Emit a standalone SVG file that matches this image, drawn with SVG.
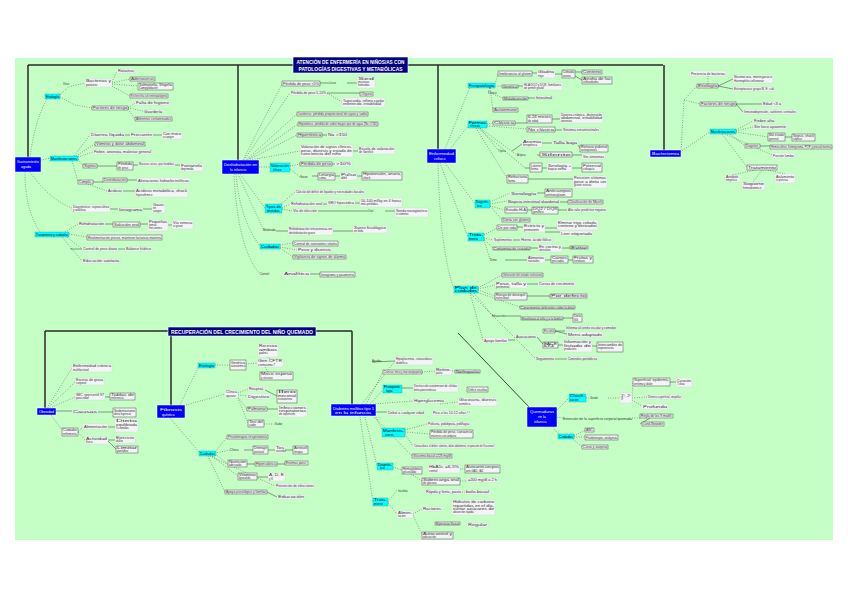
<svg xmlns="http://www.w3.org/2000/svg" width="848" height="599" viewBox="0 0 848 599">
<style>
.l rect{fill:#f3f4f5;stroke:#c9ccce;stroke-width:.3}
.l.b rect{stroke:#3a3a3a;stroke-width:.45}
.l text,.lbl{font-family:"Liberation Sans",Arial,sans-serif;font-size:2.8px;fill:#333}
.c rect{fill:#00ffff;stroke:#08a;stroke-width:.3}
.c text{font-family:"Liberation Sans",Arial,sans-serif;font-size:3px;fill:#002}
.m rect{fill:#0000ff;stroke:#fff;stroke-width:.5}
.m text{font-family:"Liberation Sans",Arial,sans-serif;font-size:3.6px;fill:#fff}
.t rect{fill:#000080;stroke:#fff;stroke-width:.6}
.t text{font-family:"Liberation Sans",Arial,sans-serif;font-size:5.4px;font-weight:bold;fill:#fff;text-anchor:middle}
.d{fill:none;stroke:#3a4a3a;stroke-width:.6;stroke-dasharray:.8 1.6}
.s{fill:none;stroke:#333;stroke-width:.5}
.k{fill:none;stroke:#2a2a2a;stroke-width:1.5}
.g{fill:none;stroke:#3c4a3c;stroke-width:1}
</style>
<rect x="15" y="58" width="818" height="482" fill="#c6ffc6"/>
<g id="connectors">
<path class="k" d="M28,65H663M28,65V157M238,65V160M438,65V149M664,65V150M45,331H352M45,331V408M171,331V405M352,331V404"/>
<path class="g" d="M458,333L530,408"/>
<path class="d" d="M30,157Q35,120 47,99M60,95L68,87L85,83M60,97L75,105L92,108M112,82L117,71M112,83L130,79M112,84L138,86M112,86L130,96M128,108L135,103M128,108L143,111M128,109L135,119M41,160L50,158M74,156L90,135M76,156L95,144M78,157L93,152M78,159L83,166M72,161L78,182M88,184L107,191M25,172Q25,210 40,232M30,172Q50,200 72,208M65,232L78,224M69,234L87,237M67,237L82,249M62,237L82,261"/>
<path class="s" d="M125,135H130M153,135H162M97,166H117M133,165H138M175,165H180M93,182H103M127,180H137M123,191H135M110,209H118M143,209H152M105,224H113M140,224H148M168,225H172M70,249H82M118,249H125"/>
<path class="d" d="M243,160L282,84M244,160L290,93M246,160L297,114M247,160L298,124M248,160L297,135M250,160L300,151M259,167H270M290,166L300,164M290,169L300,177M240,174L265,208M282,208L290,204M282,209L292,211M280,205L295,192M238,174L263,229M236,174Q240,220 260,246M280,245L293,243M280,247L297,250M280,248L293,257M234,174Q238,250 260,274M327,93L342,102"/>
<path class="s" d="M320,83H330M347,83H357M327,93H360M322,135H327M353,151H358M332,164H335M312,176H318M335,176H340M357,176H362M323,204H327M355,203H360M318,211H368M385,211H395M333,231H353M310,274H320M276,231H288"/>
<path class="d" d="M445,149L470,87M495,84L498,74M495,86L502,86M490,88L488,92L503,98M490,88L493,110M450,149L468,126M487,124L493,123M487,126L527,129M480,128L498,150M480,128L517,155M478,128L525,168M476,128L507,178M445,163L475,204M490,202L510,193M490,204L507,201M490,206L505,210M490,206L502,220M440,163L468,237M484,235L497,228M484,238L493,240M484,239L493,248M484,240L490,259M438,163Q440,250 454,289M478,288L502,275M478,289L495,285M478,290L495,296M476,292L520,307M474,293L492,315M470,293L483,340M470,293L535,358"/>
<path class="s" d="M532,73H537M555,74H562M575,72H582M575,76L582,80M518,86H523M528,98H535M515,123H527M552,119H560M555,130H562M512,151L522,144M542,143H552M578,145L580,148M537,155H540M572,155H582M525,168H530M542,168H547M572,168H582M528,179H573M537,193H545M560,202H568M527,210H532M558,210H567M517,227H523M545,228H557M545,232H560M513,240H520M530,248H538M562,248H570M505,260H527M545,260H551M568,260H573M527,284H538M527,296H550M505,316H521M563,318H573M555,331H565M555,331L567,334M508,340H515M537,337L543,344M558,345H563M592,346H597M555,359H567"/>
<path class="d" d="M681,152L684,100L697,86M684,100L700,104M708,84L708,76M680,152L710,132M736,130L753,121M736,131L753,127M736,132L768,137M730,134L745,146M725,134L772,155M722,134L747,167M755,170L732,175M762,170L753,182M768,170L785,174"/>
<path class="s" d="M718,86L733,79M718,86L733,89M736,104H762M736,104L743,112M785,137H792M760,146H770"/>
<path class="d" d="M47,408L72,368M48,408L75,382M50,408L75,397M51,415L62,430M78,432L83,427M78,432L85,440"/>
<path class="s" d="M56,411H72M98,412H113M105,397H110M108,427H115M108,440H115M108,441L116,449"/>
<path class="d" d="M180,405L198,368M215,365L230,365M246,364L257,363M270,359L268,357M265,367L268,372M186,405L225,394M238,393L248,389M238,395L247,396M238,397L247,409M238,398L248,423M264,424L275,424M170,418L199,452M215,452L227,437M215,453L230,450M215,454L228,464M212,456L238,476M210,456L275,486M208,456L225,492"/>
<path class="s" d="M265,390L277,396M267,409H278M244,450H253M268,450H275M285,450H293M247,464H255M277,464H285M257,477H268M267,492L277,497"/>
<path class="d" d="M362,404L395,361M366,404L383,372M370,404L383,390M373,404L413,401M376,417L382,430M405,430L427,424M405,432L430,434M405,434L413,446M374,417L412,456M365,417L377,466M393,467L402,470M360,417L373,502M388,502L397,490M388,503L397,514M413,514L422,509M413,515L422,535M422,372L435,371M452,371L455,371M405,470L422,481M440,445H435M460,469H465M460,481H467M462,492H465M440,404L458,402M467,412H470M495,502L452,507"/>
<path class="s" d="M402,388H413M376,412H387M372,362L395,361"/>
<path class="d" d="M557,410L569,398M586,398L590,398M608,398L620,398M632,396L633,382M632,398L647,397M632,400L642,406M557,417L563,418M632,418L640,418M553,427L558,434M574,436L585,430M574,437L585,437M572,438L582,447"/>
<path class="s" d="M670,382H676M650,418L640,424"/>
</g>
<g id="title1" class="t"><rect x="293" y="57" width="115" height="16"/><text x="350.5" y="64" textLength="108" lengthAdjust="spacingAndGlyphs">ATENCIÓN DE ENFERMERÍA EN NIÑOS/AS CON</text><text x="350.5" y="70.5" textLength="104" lengthAdjust="spacingAndGlyphs">PATOLOGÍAS DIGESTIVAS Y METABÓLICAS</text></g>
<g id="title2" class="t"><rect x="168" y="327" width="148" height="9"/><text x="242" y="333.6" textLength="142" lengthAdjust="spacingAndGlyphs">RECUPERACIÓN DEL CRECIMIENTO DEL NIÑO QUEMADO</text></g>
<g id="n1" class="m"><rect x="15" y="157" width="26" height="15"/><text x="17" y="163" textLength="22" lengthAdjust="spacingAndGlyphs">Gastroenteritis</text><text x="21" y="168">aguda</text></g>
<g id="n2" class="m"><rect x="222" y="160" width="37" height="14"/><text x="224" y="166" textLength="33" lengthAdjust="spacingAndGlyphs">Deshidratación en</text><text x="230" y="171">la infancia</text></g>
<g id="n3" class="m"><rect x="427" y="149" width="29" height="14"/><text x="429" y="155" textLength="25" lengthAdjust="spacingAndGlyphs">Enfermedad</text><text x="434" y="160">celíaca</text></g>
<g id="n4" class="m"><rect x="650" y="150" width="31" height="7"/><text x="652" y="155" textLength="27" lengthAdjust="spacingAndGlyphs">Bacteriemia</text></g>
<g id="n5" class="m"><rect x="37" y="408" width="19" height="7"/><text x="39" y="413" textLength="15" lengthAdjust="spacingAndGlyphs">Obesidad</text></g>
<g id="n6" class="m"><rect x="157" y="405" width="28" height="13"/><text x="160" y="410.5" textLength="22" lengthAdjust="spacingAndGlyphs">Fibrosis</text><text x="162" y="415.5">quística</text></g>
<g id="n7" class="m"><rect x="331" y="404" width="45" height="12"/><text x="333" y="409.5" textLength="41" lengthAdjust="spacingAndGlyphs">Diabetes mellitus tipo 1</text><text x="335" y="414" textLength="36" lengthAdjust="spacingAndGlyphs">en la infancia</text></g>
<g id="n8" class="m"><rect x="527" y="407" width="30" height="20"/><text x="530" y="413" textLength="24" lengthAdjust="spacingAndGlyphs">Quemaduras</text><text x="538" y="418">en la</text><text x="534" y="423">infancia</text></g>
<g id="c1" class="c"><rect x="45" y="94" width="15" height="5"/><text x="46" y="97.6" textLength="13" lengthAdjust="spacingAndGlyphs">Etiología</text></g>
<g id="c2" class="c"><rect x="50" y="156" width="28" height="5"/><text x="51" y="159.6" textLength="26" lengthAdjust="spacingAndGlyphs">Manifestaciones</text></g>
<g id="c3" class="c"><rect x="35" y="232" width="34" height="5"/><text x="36" y="235.6" textLength="32" lengthAdjust="spacingAndGlyphs">Tratamiento y cuidados</text></g>
<g id="c4" class="c"><rect x="270" y="163" width="20" height="9"/><text x="271" y="166.5" textLength="18" lengthAdjust="spacingAndGlyphs">Valoración</text><text x="273" y="170.5">clínica</text></g>
<g id="c5" class="c"><rect x="265" y="204" width="17" height="9"/><text x="266" y="207.5" textLength="15" lengthAdjust="spacingAndGlyphs">Tipos de</text><text x="267" y="211.5">deshidrat.</text></g>
<g id="c6" class="c"><rect x="260" y="244" width="20" height="5"/><text x="261" y="247.6" textLength="18" lengthAdjust="spacingAndGlyphs">Cuidados</text></g>
<g id="c7" class="c"><rect x="468" y="83" width="27" height="5"/><text x="469" y="86.6" textLength="25" lengthAdjust="spacingAndGlyphs">Fisiopatología</text></g>
<g id="c8" class="c"><rect x="468" y="121" width="19" height="7"/><text x="469" y="124" textLength="17" lengthAdjust="spacingAndGlyphs">Formas</text><text x="470" y="127">clínicas</text></g>
<g id="c9" class="c"><rect x="475" y="200" width="15" height="8"/><text x="476" y="203.2" textLength="13" lengthAdjust="spacingAndGlyphs">Diagnós-</text><text x="477" y="206.6">tico</text></g>
<g id="c10" class="c"><rect x="468" y="233" width="16" height="8"/><text x="469" y="236.3" textLength="14" lengthAdjust="spacingAndGlyphs">Trata-</text><text x="469" y="239.6">miento</text></g>
<g id="c11" class="c"><rect x="454" y="286" width="24" height="7"/><text x="455" y="289" textLength="22" lengthAdjust="spacingAndGlyphs">Plan de</text><text x="455" y="292" textLength="22" lengthAdjust="spacingAndGlyphs">cuidados</text></g>
<g id="c12" class="c"><rect x="710" y="129" width="26" height="5"/><text x="711" y="132.6" textLength="24" lengthAdjust="spacingAndGlyphs">Manifestaciones</text></g>
<g id="c13" class="c"><rect x="198" y="363" width="17" height="5"/><text x="199" y="366.6" textLength="15" lengthAdjust="spacingAndGlyphs">Etiología</text></g>
<g id="c14" class="c"><rect x="199" y="451" width="17" height="5"/><text x="200" y="454.6" textLength="15" lengthAdjust="spacingAndGlyphs">Cuidados</text></g>
<g id="c15" class="c"><rect x="383" y="385" width="19" height="8"/><text x="384" y="388.3" textLength="17" lengthAdjust="spacingAndGlyphs">Fisiopato-</text><text x="386" y="391.6">logía</text></g>
<g id="c16" class="c"><rect x="382" y="428" width="23" height="9"/><text x="383" y="431.5" textLength="21" lengthAdjust="spacingAndGlyphs">Manifesta-</text><text x="385" y="435.5">ciones</text></g>
<g id="c17" class="c"><rect x="377" y="463" width="16" height="7"/><text x="378" y="466" textLength="14" lengthAdjust="spacingAndGlyphs">Diagnós-</text><text x="380" y="469">tico</text></g>
<g id="c18" class="c"><rect x="373" y="498" width="15" height="8"/><text x="374" y="501.3" textLength="13" lengthAdjust="spacingAndGlyphs">Trata-</text><text x="374" y="504.6">miento</text></g>
<g id="c19" class="c"><rect x="569" y="394" width="17" height="8"/><text x="570" y="397.3" textLength="15" lengthAdjust="spacingAndGlyphs">Clasifi-</text><text x="570" y="400.6">cación</text></g>
<g id="c20" class="c"><rect x="558" y="434" width="16" height="5"/><text x="559" y="437.6" textLength="14" lengthAdjust="spacingAndGlyphs">Cuidados</text></g>
<g id="lb1"><text class="lbl" x="63" y="85">Virus</text></g>
<g id="lb2"><text class="lbl" x="330" y="84">Leve</text></g>
<g id="lb3"><text class="lbl" x="300" y="177.5">Grave</text></g>
<g id="lb4"><text class="lbl" x="368" y="212">Oral</text></g>
<g id="lb5"><text class="lbl" x="263" y="231">Moderada</text></g>
<g id="lb6"><text class="lbl" x="260" y="275">Control</text></g>
<g id="lb7"><text class="lbl" x="488" y="93.5">Clínica</text></g>
<g id="lb8"><text class="lbl" x="498" y="152">Típica</text></g>
<g id="lb9"><text class="lbl" x="517" y="156">Atípica</text></g>
<g id="lb10"><text class="lbl" x="490" y="261">Dieta</text></g>
<g id="lb11"><text class="lbl" x="492" y="317">Educación</text></g>
<g id="lb12"><text class="lbl" x="275" y="425">Sudor</text></g>
<g id="lb13"><text class="lbl" x="230" y="451">Clínica</text></g>
<g id="lb14"><text class="lbl" x="372" y="362">Agudas</text></g>
<g id="lb15"><text class="lbl" x="398" y="492">Insulina</text></g>
<g id="lb16"><text class="lbl" x="590" y="399">Grado</text></g>
<g id="lb17"><text class="lbl" x="563" y="419.5" textLength="69" lengthAdjust="spacingAndGlyphs">Extensión de la superficie corporal quemada</text></g>
<g id="l1" class="l"><rect x="117" y="69" width="18" height="4"/><text x="118" y="72" textLength="16" lengthAdjust="spacingAndGlyphs">Rotavirus</text></g>
<g id="l2" class="l b"><rect x="130" y="77" width="25" height="4"/><text x="131" y="80" textLength="23" lengthAdjust="spacingAndGlyphs">Adenovirus</text></g>
<g id="l3" class="l"><rect x="85" y="79" width="27" height="8"/><text x="86" y="82.3" textLength="25" lengthAdjust="spacingAndGlyphs">Bacterias y</text><text x="86" y="85.6">parásitos</text></g>
<g id="l4" class="l b"><rect x="138" y="83" width="35" height="7"/><text x="139" y="86" textLength="33" lengthAdjust="spacingAndGlyphs">Salmonella, Shigella</text><text x="139" y="89">Campylobacter</text></g>
<g id="l5" class="l b"><rect x="130" y="94" width="38" height="4"/><text x="131" y="97" textLength="36" lengthAdjust="spacingAndGlyphs">Escherichia coli enteropatógena</text></g>
<g id="l6" class="l b"><rect x="92" y="106" width="36" height="4"/><text x="93" y="109" textLength="34" lengthAdjust="spacingAndGlyphs">Factores de riesgo</text></g>
<g id="l7" class="l"><rect x="135" y="101" width="35" height="4"/><text x="136" y="104" textLength="33" lengthAdjust="spacingAndGlyphs">Falta de higiene</text></g>
<g id="l8" class="l"><rect x="143" y="110" width="20" height="3"/><text x="144" y="112.5" textLength="18" lengthAdjust="spacingAndGlyphs">Guardería</text></g>
<g id="l9" class="l b"><rect x="135" y="117" width="37" height="4"/><text x="136" y="120" textLength="35" lengthAdjust="spacingAndGlyphs">Alimentos contaminados</text></g>
<g id="l10" class="l"><rect x="90" y="133" width="35" height="4"/><text x="91" y="136" textLength="33" lengthAdjust="spacingAndGlyphs">Diarrea líquida</text></g>
<g id="l11" class="l"><rect x="130" y="133" width="23" height="4"/><text x="131" y="136" textLength="21" lengthAdjust="spacingAndGlyphs">Frecuente</text></g>
<g id="l12" class="l"><rect x="162" y="132" width="20" height="7"/><text x="163" y="135" textLength="18" lengthAdjust="spacingAndGlyphs">Con moco</text><text x="163" y="138">o sangre</text></g>
<g id="l13" class="l b"><rect x="95" y="142" width="50" height="4"/><text x="96" y="145" textLength="48" lengthAdjust="spacingAndGlyphs">Vómitos y dolor abdominal</text></g>
<g id="l14" class="l"><rect x="93" y="150" width="59" height="4"/><text x="94" y="153" textLength="57" lengthAdjust="spacingAndGlyphs">Fiebre, anorexia, malestar general</text></g>
<g id="l15" class="l b"><rect x="83" y="164" width="14" height="4"/><text x="84" y="167" textLength="12" lengthAdjust="spacingAndGlyphs">Signos</text></g>
<g id="l16" class="l b"><rect x="117" y="162" width="16" height="8"/><text x="118" y="165.3" textLength="14" lengthAdjust="spacingAndGlyphs">Pérdida</text><text x="118" y="168.6">de peso</text></g>
<g id="l17" class="l"><rect x="138" y="162" width="37" height="4"/><text x="139" y="165" textLength="35" lengthAdjust="spacingAndGlyphs">Mucosas secas, ojos hundidos</text></g>
<g id="l18" class="l"><rect x="180" y="164" width="23" height="7"/><text x="181" y="167" textLength="21" lengthAdjust="spacingAndGlyphs">Fontanela</text><text x="181" y="170">deprimida</text></g>
<g id="l19" class="l b"><rect x="78" y="180" width="15" height="4"/><text x="79" y="183" textLength="13" lengthAdjust="spacingAndGlyphs">Complic.</text></g>
<g id="l20" class="l b"><rect x="103" y="178" width="24" height="4"/><text x="104" y="181" textLength="22" lengthAdjust="spacingAndGlyphs">Deshidratación</text></g>
<g id="l21" class="l"><rect x="137" y="178" width="53" height="5"/><text x="138" y="181.6" textLength="51" lengthAdjust="spacingAndGlyphs">Alteraciones hidroelectrolíticas</text></g>
<g id="l22" class="l"><rect x="107" y="189" width="16" height="4"/><text x="108" y="192" textLength="14" lengthAdjust="spacingAndGlyphs">Acidosis</text></g>
<g id="l23" class="l"><rect x="135" y="189" width="53" height="8"/><text x="136" y="192.3" textLength="51" lengthAdjust="spacingAndGlyphs">Acidosis metabólica, shock</text><text x="136" y="195.6">hipovolémico</text></g>
<g id="l24" class="l"><rect x="72" y="205" width="38" height="7"/><text x="73" y="208" textLength="36" lengthAdjust="spacingAndGlyphs">Diagnóstico: coprocultivo</text><text x="73" y="211">y analítica</text></g>
<g id="l25" class="l"><rect x="118" y="208" width="25" height="3"/><text x="119" y="210.5" textLength="23" lengthAdjust="spacingAndGlyphs">Ionograma</text></g>
<g id="l26" class="l"><rect x="152" y="203" width="13" height="10"/><text x="153" y="206" textLength="11" lengthAdjust="spacingAndGlyphs">Gases</text><text x="153" y="209">en</text><text x="153" y="212">sangre</text></g>
<g id="l27" class="l"><rect x="78" y="222" width="27" height="4"/><text x="79" y="225" textLength="25" lengthAdjust="spacingAndGlyphs">Rehidratación</text></g>
<g id="l28" class="l b"><rect x="113" y="222" width="27" height="5"/><text x="114" y="225.6" textLength="25" lengthAdjust="spacingAndGlyphs">Solución oral</text></g>
<g id="l29" class="l"><rect x="148" y="220" width="20" height="11"/><text x="149" y="223" textLength="18" lengthAdjust="spacingAndGlyphs">Pequeñas</text><text x="149" y="226">tomas</text><text x="149" y="229">frecuentes</text></g>
<g id="l30" class="l"><rect x="172" y="220" width="21" height="9"/><text x="173" y="223.5" textLength="19" lengthAdjust="spacingAndGlyphs">Vía venosa</text><text x="173" y="227">si grave</text></g>
<g id="l31" class="l b"><rect x="87" y="235" width="75" height="5"/><text x="88" y="238.6" textLength="73" lengthAdjust="spacingAndGlyphs">Realimentación precoz, mantener lactancia materna</text></g>
<g id="l32" class="l"><rect x="82" y="247" width="36" height="4"/><text x="83" y="250" textLength="34" lengthAdjust="spacingAndGlyphs">Control de peso diario</text></g>
<g id="l33" class="l"><rect x="125" y="247" width="27" height="4"/><text x="126" y="250" textLength="25" lengthAdjust="spacingAndGlyphs">Balance hídrico</text></g>
<g id="l34" class="l"><rect x="82" y="259" width="38" height="4"/><text x="83" y="262" textLength="36" lengthAdjust="spacingAndGlyphs">Educación sanitaria</text></g>
<g id="l35" class="l b"><rect x="282" y="81" width="38" height="5"/><text x="283" y="84.6" textLength="36" lengthAdjust="spacingAndGlyphs">Pérdida de peso &lt;5%</text></g>
<g id="l37" class="l"><rect x="357" y="77" width="18" height="11"/><text x="358" y="80" textLength="16" lengthAdjust="spacingAndGlyphs">Sed</text><text x="358" y="83">mucosas</text><text x="358" y="86">húmedas</text></g>
<g id="l38" class="l"><rect x="290" y="91" width="37" height="4"/><text x="291" y="94" textLength="35" lengthAdjust="spacingAndGlyphs">Pérdida de peso 5-10%</text></g>
<g id="l39" class="l b"><rect x="360" y="92" width="13" height="4"/><text x="361" y="95" textLength="11" lengthAdjust="spacingAndGlyphs">Oliguria</text></g>
<g id="l40" class="l"><rect x="342" y="98" width="43" height="9"/><text x="343" y="101.5" textLength="41" lengthAdjust="spacingAndGlyphs">Taquicardia, relleno capilar</text><text x="343" y="105" textLength="38" lengthAdjust="spacingAndGlyphs">enlentecido, irritabilidad</text></g>
<g id="l41" class="l b"><rect x="297" y="112" width="71" height="4"/><text x="298" y="115" textLength="69" lengthAdjust="spacingAndGlyphs">Isotónica: pérdida proporcional de agua y sodio</text></g>
<g id="l42" class="l b"><rect x="298" y="122" width="80" height="4"/><text x="299" y="125" textLength="78" lengthAdjust="spacingAndGlyphs">Hipotónica: pérdida de sodio mayor que de agua (Na &lt;130)</text></g>
<g id="l43" class="l b"><rect x="297" y="133" width="25" height="4"/><text x="298" y="136" textLength="23" lengthAdjust="spacingAndGlyphs">Hipertónica</text></g>
<g id="l44" class="l"><rect x="327" y="133" width="21" height="4"/><text x="328" y="136" textLength="19" lengthAdjust="spacingAndGlyphs">Na &gt;150</text></g>
<g id="l45" class="l"><rect x="300" y="145" width="53" height="12"/><text x="301" y="148.3" textLength="51" lengthAdjust="spacingAndGlyphs">Valoración de signos clínicos,</text><text x="301" y="151.6" textLength="51" lengthAdjust="spacingAndGlyphs">peso, diuresis y estado de</text><text x="301" y="154.9" textLength="40" lengthAdjust="spacingAndGlyphs">conciencia del niño</text></g>
<g id="l46" class="l"><rect x="358" y="147" width="37" height="7"/><text x="359" y="150" textLength="35" lengthAdjust="spacingAndGlyphs">Escala de valoración</text><text x="359" y="153">de Gorelick</text></g>
<g id="l47" class="l b"><rect x="300" y="162" width="32" height="4"/><text x="301" y="165" textLength="30" lengthAdjust="spacingAndGlyphs">Pérdida de peso</text></g>
<g id="l48" class="l"><rect x="335" y="162" width="17" height="4"/><text x="336" y="165" textLength="15" lengthAdjust="spacingAndGlyphs">&gt;10%</text></g>
<g id="l49" class="l b"><rect x="318" y="173" width="17" height="7"/><text x="319" y="176" textLength="15" lengthAdjust="spacingAndGlyphs">Letargia</text><text x="319" y="179">coma</text></g>
<g id="l50" class="l"><rect x="340" y="173" width="17" height="7"/><text x="341" y="176" textLength="15" lengthAdjust="spacingAndGlyphs">Pulso</text><text x="341" y="179">débil</text></g>
<g id="l51" class="l b"><rect x="362" y="172" width="40" height="8"/><text x="363" y="175.3" textLength="38" lengthAdjust="spacingAndGlyphs">Hipotensión, anuria,</text><text x="363" y="178.6">shock</text></g>
<g id="l52" class="l"><rect x="295" y="190" width="70" height="4"/><text x="296" y="193" textLength="68" lengthAdjust="spacingAndGlyphs">Cálculo del déficit de líquidos y necesidades basales</text></g>
<g id="l53" class="l"><rect x="290" y="202" width="33" height="4"/><text x="291" y="205" textLength="31" lengthAdjust="spacingAndGlyphs">Rehidratación oral</text></g>
<g id="l54" class="l"><rect x="327" y="200" width="28" height="5"/><text x="328" y="203.6" textLength="26" lengthAdjust="spacingAndGlyphs">SRO hiposódica</text></g>
<g id="l55" class="l"><rect x="360" y="198" width="42" height="9"/><text x="361" y="201.5" textLength="40" lengthAdjust="spacingAndGlyphs">50-100 ml/kg en 4 horas</text><text x="361" y="205">más pérdidas</text></g>
<g id="l56" class="l"><rect x="292" y="209" width="26" height="4"/><text x="293" y="212" textLength="24" lengthAdjust="spacingAndGlyphs">Vía de elección</text></g>
<g id="l57" class="l"><rect x="395" y="208" width="33" height="9"/><text x="396" y="211.5" textLength="31" lengthAdjust="spacingAndGlyphs">Sonda nasogástrica</text><text x="396" y="215">si vómitos</text></g>
<g id="l58" class="l"><rect x="288" y="227" width="45" height="8"/><text x="289" y="230.3" textLength="43" lengthAdjust="spacingAndGlyphs">Rehidratación intravenosa en</text><text x="289" y="233.6">deshidratación grave</text></g>
<g id="l59" class="l"><rect x="353" y="226" width="34" height="7"/><text x="354" y="229" textLength="32" lengthAdjust="spacingAndGlyphs">Suero fisiológico</text><text x="354" y="232">en bolo</text></g>
<g id="l60" class="l b"><rect x="293" y="241" width="45" height="5"/><text x="294" y="244.6" textLength="43" lengthAdjust="spacingAndGlyphs">Control de constantes vitales</text></g>
<g id="l61" class="l"><rect x="297" y="248" width="35" height="4"/><text x="298" y="251" textLength="33" lengthAdjust="spacingAndGlyphs">Peso y diuresis</text></g>
<g id="l62" class="l b"><rect x="293" y="255" width="53" height="4"/><text x="294" y="258" textLength="51" lengthAdjust="spacingAndGlyphs">Vigilancia de signos de alarma</text></g>
<g id="l63" class="l"><rect x="283" y="272" width="27" height="4"/><text x="284" y="275" textLength="25" lengthAdjust="spacingAndGlyphs">Analítica</text></g>
<g id="l64" class="l b"><rect x="320" y="272" width="35" height="5"/><text x="321" y="275.6" textLength="33" lengthAdjust="spacingAndGlyphs">Ionograma y gasometría</text></g>
<g id="l65" class="l b"><rect x="498" y="71" width="34" height="5"/><text x="499" y="74.6" textLength="32" lengthAdjust="spacingAndGlyphs">Intolerancia al gluten</text></g>
<g id="l66" class="l"><rect x="537" y="70" width="18" height="8"/><text x="538" y="73.3" textLength="16" lengthAdjust="spacingAndGlyphs">Gliadina</text><text x="538" y="76.6">trigo</text></g>
<g id="l67" class="l b"><rect x="562" y="70" width="13" height="8"/><text x="563" y="73.3" textLength="11" lengthAdjust="spacingAndGlyphs">Cebada</text><text x="563" y="76.6">avena</text></g>
<g id="l68" class="l b"><rect x="582" y="70" width="20" height="4"/><text x="583" y="73" textLength="18" lengthAdjust="spacingAndGlyphs">Centeno</text></g>
<g id="l69" class="l b"><rect x="582" y="77" width="30" height="7"/><text x="583" y="80" textLength="28" lengthAdjust="spacingAndGlyphs">Atrofia de las</text><text x="583" y="83">vellosidades</text></g>
<g id="l70" class="l b"><rect x="502" y="85" width="16" height="3"/><text x="503" y="87.5" textLength="14" lengthAdjust="spacingAndGlyphs">Genética</text></g>
<g id="l71" class="l"><rect x="523" y="83" width="39" height="7"/><text x="524" y="86" textLength="37" lengthAdjust="spacingAndGlyphs">HLA DQ2 y DQ8, familiares</text><text x="524" y="89">de primer grado</text></g>
<g id="l72" class="l b"><rect x="503" y="97" width="25" height="3"/><text x="504" y="99.5" textLength="23" lengthAdjust="spacingAndGlyphs">Malabsorción</text></g>
<g id="l73" class="l"><rect x="535" y="96" width="18" height="3"/><text x="536" y="98.5" textLength="16" lengthAdjust="spacingAndGlyphs">Intestinal</text></g>
<g id="l74" class="l b"><rect x="493" y="108" width="25" height="4"/><text x="494" y="111" textLength="23" lengthAdjust="spacingAndGlyphs">Autoinmune</text></g>
<g id="l75" class="l b"><rect x="493" y="121" width="22" height="4"/><text x="494" y="124" textLength="20" lengthAdjust="spacingAndGlyphs">Clásica</text></g>
<g id="l76" class="l b"><rect x="527" y="115" width="25" height="8"/><text x="528" y="118.3" textLength="23" lengthAdjust="spacingAndGlyphs">6-24 meses</text><text x="528" y="121.6">de edad</text></g>
<g id="l77" class="l"><rect x="560" y="113" width="43" height="10"/><text x="561" y="116" textLength="41" lengthAdjust="spacingAndGlyphs">Diarrea crónica, distensión</text><text x="561" y="119" textLength="41" lengthAdjust="spacingAndGlyphs">abdominal, irritabilidad</text><text x="561" y="122">anorexia</text></g>
<g id="l78" class="l b"><rect x="527" y="127" width="28" height="5"/><text x="528" y="130.6" textLength="26" lengthAdjust="spacingAndGlyphs">No clásica</text></g>
<g id="l79" class="l"><rect x="562" y="128" width="38" height="4"/><text x="563" y="131" textLength="36" lengthAdjust="spacingAndGlyphs">Síntomas extraintestinales</text></g>
<g id="l80" class="l"><rect x="522" y="140" width="20" height="7"/><text x="523" y="143" textLength="18" lengthAdjust="spacingAndGlyphs">Anemia</text><text x="523" y="146">ferropénica</text></g>
<g id="l81" class="l"><rect x="552" y="141" width="26" height="3"/><text x="553" y="143.5" textLength="24" lengthAdjust="spacingAndGlyphs">Talla baja</text></g>
<g id="l82" class="l b"><rect x="580" y="145" width="28" height="7"/><text x="581" y="148" textLength="26" lengthAdjust="spacingAndGlyphs">Retraso puberal</text><text x="581" y="151">osteoporosis</text></g>
<g id="l83" class="l b"><rect x="540" y="152" width="32" height="5"/><text x="541" y="155.6" textLength="30" lengthAdjust="spacingAndGlyphs">Silente</text></g>
<g id="l84" class="l"><rect x="582" y="154" width="23" height="5"/><text x="583" y="157.6" textLength="21" lengthAdjust="spacingAndGlyphs">Sin síntomas</text></g>
<g id="l85" class="l b"><rect x="530" y="163" width="12" height="9"/><text x="531" y="166.5" textLength="10" lengthAdjust="spacingAndGlyphs">Latente</text><text x="531" y="170">forma</text></g>
<g id="l86" class="l"><rect x="547" y="163" width="25" height="9"/><text x="548" y="166.5" textLength="23" lengthAdjust="spacingAndGlyphs">Serología +</text><text x="548" y="170">biopsia normal</text></g>
<g id="l87" class="l b"><rect x="582" y="163" width="20" height="9"/><text x="583" y="166.5" textLength="18" lengthAdjust="spacingAndGlyphs">Potencial</text><text x="583" y="170">celiaquía</text></g>
<g id="l88" class="l b"><rect x="507" y="175" width="21" height="8"/><text x="508" y="178.3" textLength="19" lengthAdjust="spacingAndGlyphs">Refractaria</text><text x="508" y="181.6">forma</text></g>
<g id="l89" class="l"><rect x="573" y="176" width="34" height="12"/><text x="574" y="179.3" textLength="32" lengthAdjust="spacingAndGlyphs">Persisten síntomas</text><text x="574" y="182.6" textLength="32" lengthAdjust="spacingAndGlyphs">pese a dieta sin</text><text x="574" y="185.9">gluten estricta</text></g>
<g id="l90" class="l"><rect x="510" y="192" width="27" height="3"/><text x="511" y="194.5" textLength="25" lengthAdjust="spacingAndGlyphs">Serología</text></g>
<g id="l91" class="l b"><rect x="545" y="189" width="27" height="8"/><text x="546" y="192.3" textLength="25" lengthAdjust="spacingAndGlyphs">Anticuerpos</text><text x="546" y="195.6">antitransglutam.</text></g>
<g id="l92" class="l"><rect x="507" y="200" width="53" height="3"/><text x="508" y="202.5" textLength="51" lengthAdjust="spacingAndGlyphs">Biopsia intestinal duodenal</text></g>
<g id="l93" class="l b"><rect x="568" y="200" width="35" height="4"/><text x="569" y="203" textLength="33" lengthAdjust="spacingAndGlyphs">Clasificación de Marsh</text></g>
<g id="l94" class="l b"><rect x="505" y="207" width="22" height="6"/><text x="506" y="210.6" textLength="20" lengthAdjust="spacingAndGlyphs">Estudio HLA</text></g>
<g id="l95" class="l b"><rect x="532" y="207" width="26" height="7"/><text x="533" y="210" textLength="24" lengthAdjust="spacingAndGlyphs">DQ2 / DQ8</text><text x="533" y="213">genético</text></g>
<g id="l96" class="l"><rect x="567" y="208" width="40" height="4"/><text x="568" y="211" textLength="38" lengthAdjust="spacingAndGlyphs">Alto valor predictivo negativo</text></g>
<g id="l97" class="l b"><rect x="502" y="218" width="28" height="4"/><text x="503" y="221" textLength="26" lengthAdjust="spacingAndGlyphs">Dieta sin gluten</text></g>
<g id="l98" class="l b"><rect x="497" y="225" width="20" height="5"/><text x="498" y="228.6" textLength="18" lengthAdjust="spacingAndGlyphs">De por vida</text></g>
<g id="l99" class="l"><rect x="523" y="224" width="22" height="8"/><text x="524" y="227.3" textLength="20" lengthAdjust="spacingAndGlyphs">Estricta y</text><text x="524" y="230.6">permanente</text></g>
<g id="l100" class="l"><rect x="557" y="220" width="41" height="10"/><text x="558" y="223.5" textLength="39" lengthAdjust="spacingAndGlyphs">Eliminar trigo, cebada,</text><text x="558" y="227" textLength="39" lengthAdjust="spacingAndGlyphs">centeno y derivados</text></g>
<g id="l101" class="l"><rect x="560" y="231" width="33" height="5"/><text x="561" y="234.6" textLength="31" lengthAdjust="spacingAndGlyphs">Leer etiquetado</text></g>
<g id="l102" class="l"><rect x="493" y="238" width="20" height="4"/><text x="494" y="241" textLength="18" lengthAdjust="spacingAndGlyphs">Suplementos</text></g>
<g id="l103" class="l"><rect x="520" y="238" width="32" height="4"/><text x="521" y="241" textLength="30" lengthAdjust="spacingAndGlyphs">Hierro, ácido fólico</text></g>
<g id="l104" class="l b"><rect x="493" y="247" width="37" height="3"/><text x="494" y="249.5" textLength="35" lengthAdjust="spacingAndGlyphs">Contaminación cruzada</text></g>
<g id="l105" class="l"><rect x="538" y="245" width="24" height="7"/><text x="539" y="248" textLength="22" lengthAdjust="spacingAndGlyphs">En cocina y</text><text x="539" y="251">utensilios</text></g>
<g id="l106" class="l b"><rect x="570" y="246" width="18" height="3"/><text x="571" y="248.5" textLength="16" lengthAdjust="spacingAndGlyphs">Evitar</text></g>
<g id="l107" class="l"><rect x="527" y="256" width="18" height="7"/><text x="528" y="259" textLength="16" lengthAdjust="spacingAndGlyphs">Alimentos</text><text x="528" y="262">naturales</text></g>
<g id="l108" class="l b"><rect x="551" y="256" width="17" height="7"/><text x="552" y="259" textLength="15" lengthAdjust="spacingAndGlyphs">Carnes</text><text x="552" y="262">pescados</text></g>
<g id="l109" class="l b"><rect x="573" y="256" width="20" height="7"/><text x="574" y="259" textLength="18" lengthAdjust="spacingAndGlyphs">Frutas y</text><text x="574" y="262">verduras</text></g>
<g id="l110" class="l b"><rect x="502" y="273" width="41" height="4"/><text x="503" y="276" textLength="39" lengthAdjust="spacingAndGlyphs">Valoración del estado nutricional</text></g>
<g id="l111" class="l"><rect x="495" y="282" width="32" height="6"/><text x="496" y="284.8" textLength="30" lengthAdjust="spacingAndGlyphs">Peso, talla y</text><text x="496" y="287.5">perímetros</text></g>
<g id="l112" class="l"><rect x="538" y="282" width="37" height="4"/><text x="539" y="285" textLength="35" lengthAdjust="spacingAndGlyphs">Curvas de crecimiento</text></g>
<g id="l113" class="l b"><rect x="495" y="293" width="32" height="7"/><text x="496" y="296" textLength="30" lengthAdjust="spacingAndGlyphs">Riesgo de desequil.</text><text x="496" y="299">nutricional</text></g>
<g id="l114" class="l b"><rect x="550" y="294" width="37" height="4"/><text x="551" y="297" textLength="35" lengthAdjust="spacingAndGlyphs">Por defecto</text></g>
<g id="l115" class="l b"><rect x="520" y="306" width="55" height="3"/><text x="521" y="308.5" textLength="53" lengthAdjust="spacingAndGlyphs">Conocimientos deficientes sobre la dieta</text></g>
<g id="l116" class="l b"><rect x="521" y="317" width="42" height="3"/><text x="522" y="319.5" textLength="40" lengthAdjust="spacingAndGlyphs">Enseñanza al niño y a la familia</text></g>
<g id="l117" class="l b"><rect x="573" y="314" width="9" height="8"/><text x="574" y="317.3" textLength="7" lengthAdjust="spacingAndGlyphs">Dieta</text><text x="574" y="320.6">SG</text></g>
<g id="l118" class="l b"><rect x="543" y="329" width="12" height="4"/><text x="544" y="332" textLength="10" lengthAdjust="spacingAndGlyphs">Escuela</text></g>
<g id="l119" class="l"><rect x="565" y="326" width="52" height="3"/><text x="566" y="328.5" textLength="50" lengthAdjust="spacingAndGlyphs">Informar al centro escolar y comedor</text></g>
<g id="l120" class="l"><rect x="567" y="332" width="36" height="5"/><text x="568" y="335.6" textLength="34" lengthAdjust="spacingAndGlyphs">Menú adaptado</text></g>
<g id="l121" class="l"><rect x="483" y="338" width="25" height="5"/><text x="484" y="341.6" textLength="23" lengthAdjust="spacingAndGlyphs">Apoyo familiar</text></g>
<g id="l122" class="l"><rect x="515" y="335" width="22" height="3"/><text x="516" y="337.5" textLength="20" lengthAdjust="spacingAndGlyphs">Asociaciones</text></g>
<g id="l123" class="l b"><rect x="543" y="342" width="15" height="6"/><text x="544" y="344.8" textLength="13" lengthAdjust="spacingAndGlyphs">FACE</text><text x="544" y="347.4">ACECA</text></g>
<g id="l124" class="l"><rect x="563" y="340" width="29" height="12"/><text x="564" y="343.3" textLength="27" lengthAdjust="spacingAndGlyphs">Información y</text><text x="564" y="346.6" textLength="27" lengthAdjust="spacingAndGlyphs">listado de</text><text x="564" y="349.9">productos</text></g>
<g id="l125" class="l b"><rect x="597" y="342" width="26" height="10"/><text x="598" y="345.5" textLength="24" lengthAdjust="spacingAndGlyphs">Intercambio de</text><text x="598" y="349">experiencias</text></g>
<g id="l126" class="l"><rect x="535" y="357" width="20" height="3"/><text x="536" y="359.5" textLength="18" lengthAdjust="spacingAndGlyphs">Seguimiento</text></g>
<g id="l127" class="l"><rect x="567" y="357" width="31" height="3"/><text x="568" y="359.5" textLength="29" lengthAdjust="spacingAndGlyphs">Controles periódicos</text></g>
<g id="l128" class="l"><rect x="690" y="71" width="36" height="5"/><text x="691" y="74.6" textLength="34" lengthAdjust="spacingAndGlyphs">Presencia de bacterias</text></g>
<g id="l129" class="l b"><rect x="697" y="84" width="21" height="4"/><text x="698" y="87" textLength="19" lengthAdjust="spacingAndGlyphs">Etiología</text></g>
<g id="l130" class="l"><rect x="733" y="75" width="40" height="8"/><text x="734" y="78.3" textLength="38" lengthAdjust="spacingAndGlyphs">Neumococo, meningococo</text><text x="734" y="81.6">Haemophilus influenzae</text></g>
<g id="l131" class="l"><rect x="733" y="87" width="42" height="4"/><text x="734" y="90" textLength="40" lengthAdjust="spacingAndGlyphs">Estreptococo grupo B, E. coli</text></g>
<g id="l132" class="l b"><rect x="700" y="102" width="36" height="4"/><text x="701" y="105" textLength="34" lengthAdjust="spacingAndGlyphs">Factores de riesgo</text></g>
<g id="l133" class="l"><rect x="762" y="102" width="20" height="4"/><text x="763" y="105" textLength="18" lengthAdjust="spacingAndGlyphs">Edad &lt;3 a</text></g>
<g id="l134" class="l"><rect x="743" y="110" width="54" height="4"/><text x="744" y="113" textLength="52" lengthAdjust="spacingAndGlyphs">Inmunodepresión, catéteres centrales</text></g>
<g id="l135" class="l"><rect x="753" y="119" width="22" height="3"/><text x="754" y="121.5" textLength="20" lengthAdjust="spacingAndGlyphs">Fiebre alta</text></g>
<g id="l136" class="l"><rect x="753" y="125" width="34" height="4"/><text x="754" y="128" textLength="32" lengthAdjust="spacingAndGlyphs">Sin foco aparente</text></g>
<g id="l137" class="l b"><rect x="768" y="133" width="17" height="8"/><text x="769" y="136.3" textLength="15" lengthAdjust="spacingAndGlyphs">Mal estado</text><text x="769" y="139.6">general</text></g>
<g id="l138" class="l b"><rect x="792" y="134" width="23" height="7"/><text x="793" y="137" textLength="21" lengthAdjust="spacingAndGlyphs">Sepsis, shock</text><text x="793" y="140">séptico</text></g>
<g id="l139" class="l b"><rect x="745" y="144" width="15" height="4"/><text x="746" y="147" textLength="13" lengthAdjust="spacingAndGlyphs">Diagnóst.</text></g>
<g id="l140" class="l b"><rect x="770" y="145" width="62" height="4"/><text x="771" y="148" textLength="60" lengthAdjust="spacingAndGlyphs">Hemocultivo, hemograma, PCR y procalcitonina</text></g>
<g id="l141" class="l"><rect x="772" y="153" width="23" height="5"/><text x="773" y="156.6" textLength="21" lengthAdjust="spacingAndGlyphs">Punción lumbar</text></g>
<g id="l142" class="l b"><rect x="747" y="165" width="30" height="5"/><text x="748" y="168.6" textLength="28" lengthAdjust="spacingAndGlyphs">Tratamiento</text></g>
<g id="l143" class="l"><rect x="725" y="175" width="15" height="7"/><text x="726" y="178" textLength="13" lengthAdjust="spacingAndGlyphs">Antibiót.</text><text x="726" y="181">empírico</text></g>
<g id="l144" class="l"><rect x="742" y="182" width="23" height="8"/><text x="743" y="185.3" textLength="21" lengthAdjust="spacingAndGlyphs">Soporte</text><text x="743" y="188.6">hemodinámico</text></g>
<g id="l145" class="l"><rect x="775" y="174" width="20" height="9"/><text x="776" y="177.5" textLength="18" lengthAdjust="spacingAndGlyphs">Aislamiento</text><text x="776" y="181">si precisa</text></g>
<g id="l146" class="l"><rect x="75" y="378" width="29" height="7"/><text x="76" y="381" textLength="27" lengthAdjust="spacingAndGlyphs">Exceso de grasa</text><text x="76" y="384">corporal</text></g>
<g id="l147" class="l"><rect x="75" y="393" width="30" height="7"/><text x="76" y="396" textLength="28" lengthAdjust="spacingAndGlyphs">IMC &gt;percentil 97</text><text x="76" y="399">para edad</text></g>
<g id="l148" class="l b"><rect x="110" y="393" width="25" height="7"/><text x="111" y="396" textLength="23" lengthAdjust="spacingAndGlyphs">Tablas de</text><text x="111" y="399">referencia</text></g>
<g id="l149" class="l"><rect x="72" y="410" width="26" height="3"/><text x="73" y="412.5" textLength="24" lengthAdjust="spacingAndGlyphs">Causas</text></g>
<g id="l150" class="l b"><rect x="113" y="408" width="23" height="9"/><text x="114" y="411.5" textLength="21" lengthAdjust="spacingAndGlyphs">Sedentarismo</text><text x="114" y="415">dieta hipercal.</text></g>
<g id="l151" class="l b"><rect x="62" y="428" width="16" height="8"/><text x="63" y="431.3" textLength="14" lengthAdjust="spacingAndGlyphs">Cuidados</text><text x="63" y="434.6">enfermería</text></g>
<g id="l152" class="l"><rect x="83" y="424" width="25" height="5"/><text x="84" y="427.6" textLength="23" lengthAdjust="spacingAndGlyphs">Alimentación</text></g>
<g id="l153" class="l"><rect x="115" y="419" width="23" height="13"/><text x="116" y="422.3" textLength="21" lengthAdjust="spacingAndGlyphs">Dieta</text><text x="116" y="425.6" textLength="21" lengthAdjust="spacingAndGlyphs">equilibrada</text><text x="116" y="428.9">5 comidas</text></g>
<g id="l154" class="l"><rect x="85" y="437" width="23" height="7"/><text x="86" y="440" textLength="21" lengthAdjust="spacingAndGlyphs">Actividad</text><text x="86" y="443">física</text></g>
<g id="l155" class="l"><rect x="115" y="436" width="20" height="7"/><text x="116" y="439" textLength="18" lengthAdjust="spacingAndGlyphs">Ejercicio</text><text x="116" y="442">diario</text></g>
<g id="l156" class="l b"><rect x="116" y="446" width="22" height="7"/><text x="117" y="449" textLength="20" lengthAdjust="spacingAndGlyphs">Limitar</text><text x="117" y="452">pantallas</text></g>
<g id="l157" class="l"><rect x="72" y="364" width="40" height="8"/><text x="73" y="367.3" textLength="38" lengthAdjust="spacingAndGlyphs">Enfermedad crónica</text><text x="73" y="370.6">multifactorial</text></g>
<g id="l158" class="l b"><rect x="230" y="360" width="16" height="10"/><text x="231" y="363.5" textLength="14" lengthAdjust="spacingAndGlyphs">Genética</text><text x="231" y="367">autosómica</text></g>
<g id="l159" class="l"><rect x="257" y="359" width="26" height="8"/><text x="258" y="362.3" textLength="24" lengthAdjust="spacingAndGlyphs">Gen CFTR</text><text x="258" y="365.6">cromosoma 7</text></g>
<g id="l160" class="l"><rect x="258" y="344" width="20" height="13"/><text x="259" y="347.3" textLength="18" lengthAdjust="spacingAndGlyphs">Recesiva</text><text x="259" y="350.6" textLength="18" lengthAdjust="spacingAndGlyphs">ambos</text><text x="259" y="353.9">padres</text></g>
<g id="l161" class="l b"><rect x="260" y="372" width="33" height="8"/><text x="261" y="375.3" textLength="31" lengthAdjust="spacingAndGlyphs">Moco espeso</text><text x="261" y="378.6">y viscoso</text></g>
<g id="l162" class="l"><rect x="225" y="390" width="13" height="8"/><text x="226" y="393.3" textLength="11" lengthAdjust="spacingAndGlyphs">Clínica</text><text x="226" y="396.6">aparato</text></g>
<g id="l163" class="l"><rect x="248" y="387" width="17" height="4"/><text x="249" y="390" textLength="15" lengthAdjust="spacingAndGlyphs">Respirat.</text></g>
<g id="l164" class="l"><rect x="247" y="394" width="23" height="5"/><text x="248" y="397.6" textLength="21" lengthAdjust="spacingAndGlyphs">Digestivo</text></g>
<g id="l165" class="l b"><rect x="277" y="390" width="20" height="13"/><text x="278" y="393.3" textLength="18" lengthAdjust="spacingAndGlyphs">Íleo</text><text x="278" y="396.6" textLength="18" lengthAdjust="spacingAndGlyphs">meconial</text><text x="278" y="399.9">esteatorrea</text></g>
<g id="l166" class="l b"><rect x="247" y="407" width="20" height="4"/><text x="248" y="410" textLength="18" lengthAdjust="spacingAndGlyphs">Pulmonar</text></g>
<g id="l167" class="l"><rect x="278" y="406" width="29" height="11"/><text x="279" y="409" textLength="27" lengthAdjust="spacingAndGlyphs">Infecciones</text><text x="279" y="412" textLength="27" lengthAdjust="spacingAndGlyphs">respiratorias</text><text x="279" y="415">de repetición</text></g>
<g id="l168" class="l b"><rect x="248" y="420" width="16" height="7"/><text x="249" y="423" textLength="14" lengthAdjust="spacingAndGlyphs">Test del</text><text x="249" y="426">sudor</text></g>
<g id="l169" class="l b"><rect x="227" y="435" width="41" height="4"/><text x="228" y="438" textLength="39" lengthAdjust="spacingAndGlyphs">Fisioterapia respiratoria</text></g>
<g id="l170" class="l b"><rect x="253" y="446" width="15" height="8"/><text x="254" y="449.3" textLength="13" lengthAdjust="spacingAndGlyphs">Drenaje</text><text x="254" y="452.6">postural</text></g>
<g id="l171" class="l"><rect x="275" y="446" width="10" height="7"/><text x="276" y="449" textLength="8" lengthAdjust="spacingAndGlyphs">Tos</text><text x="276" y="452">asistida</text></g>
<g id="l172" class="l b"><rect x="293" y="446" width="15" height="8"/><text x="294" y="449.3" textLength="13" lengthAdjust="spacingAndGlyphs">Aerosol</text><text x="294" y="452.6">terapia</text></g>
<g id="l173" class="l b"><rect x="228" y="460" width="19" height="7"/><text x="229" y="463" textLength="17" lengthAdjust="spacingAndGlyphs">Nutrición</text><text x="229" y="466">adecuada</text></g>
<g id="l174" class="l b"><rect x="255" y="462" width="22" height="4"/><text x="256" y="465" textLength="20" lengthAdjust="spacingAndGlyphs">Hipercalórica</text></g>
<g id="l175" class="l b"><rect x="285" y="461" width="23" height="4"/><text x="286" y="464" textLength="21" lengthAdjust="spacingAndGlyphs">Enzimas pancr.</text></g>
<g id="l176" class="l b"><rect x="238" y="473" width="19" height="7"/><text x="239" y="476" textLength="17" lengthAdjust="spacingAndGlyphs">Vitaminas</text><text x="239" y="479">liposolub.</text></g>
<g id="l177" class="l"><rect x="268" y="473" width="17" height="8"/><text x="269" y="476.3" textLength="15" lengthAdjust="spacingAndGlyphs">A, D, E</text><text x="269" y="479.6">y K</text></g>
<g id="l178" class="l"><rect x="275" y="484" width="40" height="4"/><text x="276" y="487" textLength="38" lengthAdjust="spacingAndGlyphs">Prevención de infecciones</text></g>
<g id="l179" class="l b"><rect x="225" y="490" width="42" height="4"/><text x="226" y="493" textLength="40" lengthAdjust="spacingAndGlyphs">Apoyo psicológico y familiar</text></g>
<g id="l180" class="l"><rect x="277" y="495" width="28" height="4"/><text x="278" y="498" textLength="26" lengthAdjust="spacingAndGlyphs">Educación</text></g>
<g id="l181" class="l"><rect x="395" y="357" width="38" height="8"/><text x="396" y="360.3" textLength="36" lengthAdjust="spacingAndGlyphs">Hipoglucemia, cetoacidosis</text><text x="396" y="363.6">diabética</text></g>
<g id="l182" class="l b"><rect x="383" y="370" width="39" height="4"/><text x="384" y="373" textLength="37" lengthAdjust="spacingAndGlyphs">Crónicas: micro y macroangiopatía</text></g>
<g id="l182b" class="l"><rect x="435" y="368" width="17" height="7"/><text x="436" y="371" textLength="15" lengthAdjust="spacingAndGlyphs">Retino-</text><text x="436" y="374">patía</text></g>
<g id="l182c" class="l b"><rect x="455" y="370" width="25" height="3"/><text x="456" y="372.5" textLength="23" lengthAdjust="spacingAndGlyphs">Nefropatía</text></g>
<g id="l183" class="l"><rect x="413" y="384" width="45" height="8"/><text x="414" y="387.3" textLength="43" lengthAdjust="spacingAndGlyphs">Destrucción autoinmune de células</text><text x="414" y="390.6">beta pancreáticas</text></g>
<g id="l195" class="l b"><rect x="467" y="387" width="21" height="5"/><text x="468" y="390.6" textLength="19" lengthAdjust="spacingAndGlyphs">Déficit insulina</text></g>
<g id="l184" class="l"><rect x="413" y="399" width="32" height="4"/><text x="414" y="402" textLength="30" lengthAdjust="spacingAndGlyphs">Hiperglucemia</text></g>
<g id="l196" class="l"><rect x="458" y="398" width="39" height="8"/><text x="459" y="401.3" textLength="37" lengthAdjust="spacingAndGlyphs">Glucosuria, diuresis</text><text x="459" y="404.6">osmótica</text></g>
<g id="l185" class="l"><rect x="387" y="411" width="38" height="4"/><text x="388" y="414" textLength="36" lengthAdjust="spacingAndGlyphs">Debut a cualquier edad</text></g>
<g id="l197" class="l"><rect x="432" y="411" width="35" height="4"/><text x="433" y="414" textLength="33" lengthAdjust="spacingAndGlyphs">Pico a los 10-12 años</text></g>
<g id="l186" class="l"><rect x="427" y="422" width="43" height="4"/><text x="428" y="425" textLength="41" lengthAdjust="spacingAndGlyphs">Poliuria, polidipsia, polifagia</text></g>
<g id="l187" class="l b"><rect x="430" y="430" width="43" height="8"/><text x="431" y="433.3" textLength="41" lengthAdjust="spacingAndGlyphs">Pérdida de peso, cansancio</text><text x="431" y="436.6">enuresis secundaria</text></g>
<g id="l188" class="l"><rect x="413" y="444" width="82" height="4"/><text x="414" y="447" textLength="80" lengthAdjust="spacingAndGlyphs">Cetoacidosis al debut: vómitos, dolor abdominal, respiración de Kussmaul</text></g>
<g id="l189" class="l b"><rect x="412" y="454" width="40" height="4"/><text x="413" y="457" textLength="38" lengthAdjust="spacingAndGlyphs">Glucemia basal ≥126 mg/dl</text></g>
<g id="l190" class="l b"><rect x="402" y="467" width="20" height="7"/><text x="403" y="470" textLength="18" lengthAdjust="spacingAndGlyphs">Hemoglobina</text><text x="403" y="473">glicosilada</text></g>
<g id="l202" class="l"><rect x="428" y="465" width="32" height="8"/><text x="429" y="468.3" textLength="30" lengthAdjust="spacingAndGlyphs">HbA1c ≥6,5%</text><text x="429" y="471.6">control</text></g>
<g id="l203" class="l b"><rect x="465" y="465" width="35" height="8"/><text x="466" y="468.3" textLength="33" lengthAdjust="spacingAndGlyphs">Autoanticuerpos</text><text x="466" y="471.6">anti-GAD, IA2</text></g>
<g id="l191" class="l b"><rect x="422" y="478" width="38" height="7"/><text x="423" y="481" textLength="36" lengthAdjust="spacingAndGlyphs">Sobrecarga oral</text><text x="423" y="484">de glucosa</text></g>
<g id="l205" class="l"><rect x="467" y="478" width="31" height="4"/><text x="468" y="481" textLength="29" lengthAdjust="spacingAndGlyphs">≥200 mg/dl a 2 h</text></g>
<g id="l206" class="l"><rect x="425" y="490" width="37" height="4"/><text x="426" y="493" textLength="35" lengthAdjust="spacingAndGlyphs">Rápida y lenta, pauta</text></g>
<g id="l207" class="l"><rect x="465" y="490" width="25" height="4"/><text x="466" y="493" textLength="23" lengthAdjust="spacingAndGlyphs">bolo-basal</text></g>
<g id="l192" class="l"><rect x="397" y="511" width="16" height="7"/><text x="398" y="514" textLength="14" lengthAdjust="spacingAndGlyphs">Alimen-</text><text x="398" y="517">tación</text></g>
<g id="l212" class="l"><rect x="422" y="507" width="20" height="4"/><text x="423" y="510" textLength="18" lengthAdjust="spacingAndGlyphs">Raciones</text></g>
<g id="l208" class="l"><rect x="452" y="500" width="43" height="15"/><text x="453" y="503.3" textLength="41" lengthAdjust="spacingAndGlyphs">Hidratos de carbono</text><text x="453" y="506.6" textLength="41" lengthAdjust="spacingAndGlyphs">repartidos en el día,</text><text x="453" y="509.9" textLength="41" lengthAdjust="spacingAndGlyphs">evitar azúcares de</text><text x="453" y="513.2">absorción rápida</text></g>
<g id="l209" class="l b"><rect x="435" y="522" width="25" height="3"/><text x="436" y="524.5" textLength="23" lengthAdjust="spacingAndGlyphs">Ejercicio físico</text></g>
<g id="l210" class="l"><rect x="467" y="523" width="21" height="4"/><text x="468" y="526" textLength="19" lengthAdjust="spacingAndGlyphs">Regular</text></g>
<g id="l193" class="l b"><rect x="422" y="532" width="31" height="7"/><text x="423" y="535" textLength="29" lengthAdjust="spacingAndGlyphs">Autocontrol y</text><text x="423" y="538">educación</text></g>
<g id="l213" class="l"><rect x="620" y="393" width="12" height="10"/><text x="621" y="396.5" textLength="10" lengthAdjust="spacingAndGlyphs">1º, 2º</text><text x="621" y="400">3º</text></g>
<g id="l214" class="l b"><rect x="633" y="378" width="37" height="8"/><text x="634" y="381.3" textLength="35" lengthAdjust="spacingAndGlyphs">Superficial: epidermis,</text><text x="634" y="384.6">eritema y dolor</text></g>
<g id="l215" class="l"><rect x="676" y="378" width="16" height="9"/><text x="677" y="381.5" textLength="14" lengthAdjust="spacingAndGlyphs">Curación</text><text x="677" y="385">7 días</text></g>
<g id="l216" class="l"><rect x="647" y="395" width="35" height="4"/><text x="648" y="398" textLength="33" lengthAdjust="spacingAndGlyphs">Dérmica superficial, ampollas</text></g>
<g id="l217" class="l"><rect x="642" y="404" width="26" height="5"/><text x="643" y="407.6" textLength="24" lengthAdjust="spacingAndGlyphs">Profunda</text></g>
<g id="l218" class="l b"><rect x="640" y="414" width="33" height="4"/><text x="641" y="417" textLength="31" lengthAdjust="spacingAndGlyphs">Regla de los 9 modif.</text></g>
<g id="l219" class="l b"><rect x="642" y="422" width="22" height="4"/><text x="643" y="425" textLength="20" lengthAdjust="spacingAndGlyphs">Lund-Browder</text></g>
<g id="l220" class="l b"><rect x="585" y="428" width="9" height="4"/><text x="586" y="431" textLength="7" lengthAdjust="spacingAndGlyphs">ABC</text></g>
<g id="l221" class="l b"><rect x="585" y="435" width="33" height="5"/><text x="586" y="438.6" textLength="31" lengthAdjust="spacingAndGlyphs">Fluidoterapia, analgesia</text></g>
<g id="l222" class="l b"><rect x="582" y="445" width="26" height="4"/><text x="583" y="448" textLength="24" lengthAdjust="spacingAndGlyphs">Curas y asepsia</text></g>
</svg>
